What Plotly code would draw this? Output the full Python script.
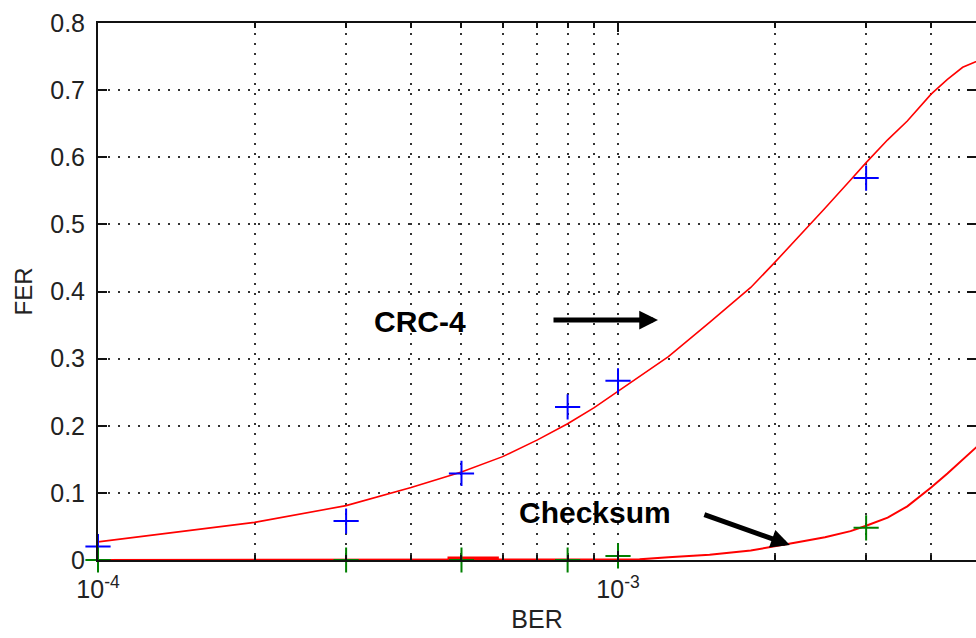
import plotly.graph_objects as go

# ---- data ----
ber_curve = [1e-4, 2e-4, 3e-4, 4e-4, 5e-4, 6e-4, 7e-4, 8e-4, 9e-4, 1e-3,
             1.1e-3, 1.25e-3, 1.5e-3, 1.8e-3, 2e-3, 2.2e-3, 2.5e-3, 2.8e-3,
             3e-3, 3.3e-3, 3.6e-3, 4e-3, 4.3e-3, 4.6e-3, 5e-3]
crc_curve = [0.027, 0.056, 0.081, 0.108, 0.131, 0.154, 0.179, 0.203, 0.227, 0.251,
             0.273, 0.303, 0.354, 0.406, 0.443, 0.477, 0.524, 0.566,
             0.592, 0.626, 0.654, 0.694, 0.716, 0.734, 0.746]
checksum_curve = [0, 0, 0, 0, 0, 0, 0, 0, 0, 0.0,
                  0.001, 0.004, 0.008, 0.014, 0.020, 0.026, 0.034, 0.043,
                  0.051, 0.063, 0.080, 0.108, 0.129, 0.150, 0.175]

ber_meas = [1e-4, 3e-4, 5e-4, 8e-4, 1e-3, 3e-3, 5e-3]
crc_meas = [0.020, 0.058, 0.129, 0.228, 0.267, 0.569, 0.750]
checksum_meas = [0, 0, 0, 0, 0.006, 0.048, 0.170]

thick_ber = [4.7e-4, 5.9e-4]
thick_val = [0, 0]

x_major = [1e-4, 1e-3]
x_major_text = ["10<sup>-4</sup>", "10<sup>-3</sup>"]
x_minor = [2e-4, 3e-4, 4e-4, 5e-4, 6e-4, 7e-4, 8e-4, 9e-4, 2e-3, 3e-3, 4e-3]
y_ticks = [0, 0.1, 0.2, 0.3, 0.4, 0.5, 0.6, 0.7, 0.8]
y_text = ["0", "0.1", "0.2", "0.3", "0.4", "0.5", "0.6", "0.7", "0.8"]

FONT = "Liberation Sans, Arial, sans-serif"
GRID = "#333333"
DASH = "2px,8px"

fig = go.Figure()
fig.add_trace(go.Scatter(x=thick_ber, y=thick_val, mode="lines",
                         line=dict(color="#ff0000", width=7), showlegend=False))
fig.add_trace(go.Scatter(x=ber_curve, y=crc_curve, mode="lines",
                         line=dict(color="#ff0000", width=1.6), showlegend=False))
fig.add_trace(go.Scatter(x=ber_curve, y=checksum_curve, mode="lines",
                         line=dict(color="#ff0000", width=2), showlegend=False))
fig.add_trace(go.Scatter(x=ber_meas, y=crc_meas, mode="markers", cliponaxis=False,
                         marker=dict(symbol="cross-thin", size=18,
                                     line=dict(color="#0000ff", width=2)),
                         showlegend=False))
fig.add_trace(go.Scatter(x=ber_meas, y=checksum_meas, mode="markers", cliponaxis=False,
                         marker=dict(symbol="cross-thin", size=18,
                                     line=dict(color="#008000", width=2)),
                         showlegend=False))

fig.update_layout(
    width=976, height=638,
    margin=dict(l=98, r=0, t=23, b=78),
    paper_bgcolor="white", plot_bgcolor="white",
    font=dict(family=FONT, size=25, color="#222222"),
    xaxis=dict(
        type="log", range=[-4, -2.3116],
        tickmode="array", tickvals=x_major, ticktext=x_major_text,
        ticks="inside", ticklen=9, tickwidth=2, tickcolor="#111111",
        showline=True, linecolor="#111111", linewidth=2, mirror="ticks",
        showgrid=True, gridcolor=GRID, gridwidth=1.5, griddash=DASH,
        minor=dict(tickmode="array", tickvals=x_minor, ticks="inside", ticklen=5,
                   tickwidth=2, tickcolor="#111111",
                   showgrid=True, gridcolor=GRID, gridwidth=1.5, griddash=DASH),
        title=dict(text="BER", font=dict(size=25, family=FONT), standoff=8),
        ticklabelstandoff=6,
        zeroline=False, automargin=False,
    ),
    yaxis=dict(
        range=[0, 0.8],
        tickmode="array", tickvals=y_ticks, ticktext=y_text,
        ticks="inside", ticklen=9, tickwidth=2, tickcolor="#111111",
        showline=True, linecolor="#111111", linewidth=2, mirror="ticks",
        showgrid=True, gridcolor=GRID, gridwidth=1.5, griddash=DASH,
        title=dict(text="FER", font=dict(size=24, family=FONT), standoff=11),
        ticklabelstandoff=6,
        zeroline=False, automargin=False,
    ),
    annotations=[
        dict(text="<b>CRC-4</b>", xref="paper", yref="paper", x=0.3662, y=0.445,
             xanchor="center", yanchor="middle", showarrow=False,
             font=dict(family=FONT, size=30, color="black")),
        dict(text="<b>Checksum</b>", xref="paper", yref="paper", x=0.566, y=0.0885,
             xanchor="center", yanchor="middle", showarrow=False,
             font=dict(family=FONT, size=30, color="black")),
        dict(text="", xref="paper", yref="paper", x=0.6378, y=0.4469,
             ax=-106, ay=0, showarrow=True, arrowhead=2, arrowwidth=5,
             arrowsize=0.75, arrowcolor="black", standoff=0),
        dict(text="", xref="paper", yref="paper", x=0.788, y=0.0279,
             ax=-87, ay=-31, showarrow=True, arrowhead=2, arrowwidth=5,
             arrowsize=0.75, arrowcolor="black", standoff=0),
    ],
)

# remove the default page margin so the 976x638 figure fills the window exactly
fig.write_html("out.html",
               config={"displayModeBar": False},
               post_script="document.body.style.margin='0';"
                           "document.body.style.overflow='hidden';")
